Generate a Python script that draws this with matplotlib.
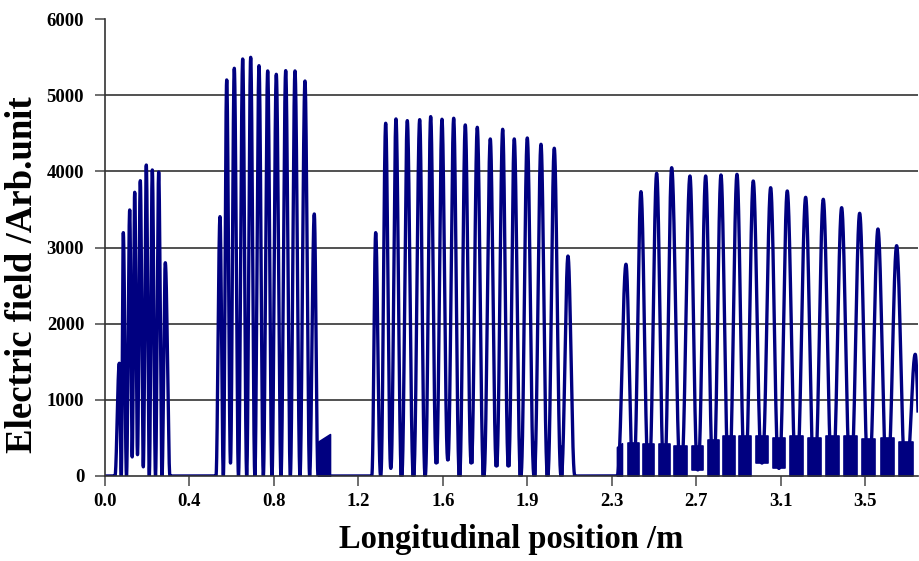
import numpy as np
import matplotlib
matplotlib.use("Agg")
import matplotlib.pyplot as plt

# ---- measured field profile: peak positions (m) and peak amplitudes (arb. unit) ----
# Cavity 1
c1_start, c1_end = 0.046, 0.299
c1_peak_x = [0.0658, 0.0842, 0.1137, 0.1367, 0.1625, 0.1901, 0.2178, 0.2472, 0.2776]
c1_peak_y = [1480, 3195, 3493, 3725, 3877, 4083, 4018, 3991, 2800]
c1_valley = [0, 0, 250, 280, 120, 0, 0, 0]

# Cavity 2
c2_start, c2_end = 0.511, 0.9806
c2_peak_x = [0.5294, 0.5603, 0.5952, 0.6339, 0.6707, 0.7090, 0.7490, 0.7886,
             0.8319, 0.8747, 0.9207, 0.9635]
c2_peak_y = [3405, 5200, 5353, 5475, 5497, 5387, 5318, 5274, 5322, 5318, 5186, 3440]
c2_valley = [0, 170, 0, 0, 0, 0, 0, 0, 0, 0, 0]
c2_tail_x = [0.9806, 1.0358]
c2_tail_top = [450, 550]

# Cavity 3
c3_start, c3_end = 1.2278, 2.1637
c3_peak_x = [1.2462, 1.2922, 1.3396, 1.3917, 1.4487, 1.4994, 1.5514, 1.6053, 1.6587,
             1.7139, 1.7738, 1.8309, 1.8842, 1.9441, 2.0072, 2.0684, 2.1315]
c3_peak_y = [3195, 4631, 4688, 4666, 4679, 4718, 4684, 4697, 4609, 4578, 4425, 4552,
             4425, 4438, 4355, 4303, 2888]
c3_valley = [0, 100, 0, 0, 0, 170, 210, 0, 170, 0, 130, 130, 0, 0, 0, 0]
c3_noise = [0, 0, 300, 400, 300, 400, 350, 300, 400, 350, 400, 400, 400, 450, 400, 400]

# Cavity 4
c4_start, c4_end = 2.3570, 3.7600
c4_peak_x = [2.3985, 2.4675, 2.5398, 2.6089, 2.6931, 2.7654, 2.8358, 2.9095, 2.9845,
             3.0646, 3.1410, 3.2257, 3.3068, 3.3914, 3.4743, 3.5586, 3.6446, 3.7302]
c4_peak_y = [2780, 3733, 3974, 4048, 3939, 3939, 3952, 3961, 3873, 3785, 3742, 3659,
             3633, 3523, 3449, 3243, 3024, 1598]
c4_valley = [0, 0, 0, 0, 80, 0, 0, 0, 170, 100, 0, 0, 0, 0, 0, 0, 0]
c4_noise = [430, 420, 420, 400, 390, 470, 520, 520, 520, 500, 520, 500, 520, 520, 480, 500, 450]
c4_lead_x = [2.3570, 2.3800]
c4_lead_top = [380, 430]

# ---- axis labelling ----
tick_step = 0.389
x_max = 3.743
y_ticks = [0, 1000, 2000, 3000, 4000, 5000, 6000]
x_label = "Longitudinal position /m"
y_label = "Electric field /Arb.unit"

LINE = "#000080"
FONT = ["Liberation Serif", "DejaVu Serif"]


def cavity_curve(x, start, px, py, valleys, end, power=3.0):
    """Field along the axis: smooth lobes joining peaks to the valleys between them."""
    px = np.asarray(px, float)
    py = np.asarray(py, float)
    mids = (px[:-1] + px[1:]) / 2
    kx = [start]
    ky = [0.0]
    for i in range(len(px)):
        kx.append(px[i]); ky.append(py[i])
        if i < len(mids):
            kx.append(mids[i]); ky.append(valleys[i])
    kx.append(end); ky.append(0.0)
    kx = np.array(kx); ky = np.array(ky)

    y = np.zeros_like(x)
    inside = (x >= start) & (x <= end)
    xi = x[inside]
    seg = np.clip(np.searchsorted(kx, xi, side="right") - 1, 0, len(kx) - 2)
    a, b = kx[seg], kx[seg + 1]
    ya, yb = ky[seg], ky[seg + 1]
    peak_first = (seg % 2 == 1)
    xp = np.where(peak_first, a, b)
    hp = np.where(peak_first, ya, yb)
    hv = np.where(peak_first, yb, ya)
    t = np.abs(xi - xp) / np.maximum(b - a, 1e-9)
    y[inside] = hv + (hp - hv) * np.cos(np.pi * t / 2) ** power
    return y


x = np.linspace(0.0, 3.76, 24000)
field = (cavity_curve(x, c1_start, c1_peak_x, c1_peak_y, c1_valley, c1_end, 2.0)
         + cavity_curve(x, c2_start, c2_peak_x, c2_peak_y, c2_valley, c2_end, 2.0)
         + cavity_curve(x, c3_start, c3_peak_x, c3_peak_y, c3_valley, c3_end, 2.4)
         + cavity_curve(x, c4_start, c4_peak_x, c4_peak_y, c4_valley, c4_end, 2.5))

fig = plt.figure(figsize=(9.2, 5.61), dpi=100)
ax = fig.add_axes([105 / 920, 85 / 561, 813 / 920, 457 / 561])

# horizontal grid
for yv in y_ticks[1:-1]:
    ax.axhline(yv, color="#222222", lw=1.1, zorder=1)


def noise_bands(px, valleys, tops, frac):
    px = np.asarray(px, float)
    for i in range(len(px) - 1):
        if tops[i] <= valleys[i]:
            continue
        gap = px[i + 1] - px[i]
        mid = (px[i] + px[i + 1]) / 2
        xs = [mid - frac * gap / 2, mid + frac * gap / 2]
        ax.fill_between(xs, [valleys[i]] * 2, [tops[i]] * 2, color=LINE,
                        lw=1.2, edgecolor=LINE, zorder=3)


noise_bands(c3_peak_x, c3_valley, c3_noise, 0.22)
noise_bands(c4_peak_x, c4_valley, c4_noise, 0.72)
ax.fill_between(c2_tail_x, [0, 0], c2_tail_top, color=LINE, lw=1.2, edgecolor=LINE, zorder=3)
ax.fill_between(c4_lead_x, [0, 0], c4_lead_top, color=LINE, lw=1.2, edgecolor=LINE, zorder=3)

ax.plot(x, field, color=LINE, lw=2.4, solid_joinstyle="round", zorder=4)

ax.set_xlim(0, x_max)
ax.set_ylim(0, 6000)
xt = np.arange(0, 10) * tick_step
ax.set_xticks(xt)
ax.set_xticklabels([f"{v:.1f}" for v in xt])
ax.set_yticks(y_ticks)
ax.set_yticklabels([str(v) for v in y_ticks])

for side in ("top", "right"):
    ax.spines[side].set_visible(False)
for side in ("left", "bottom"):
    ax.spines[side].set_color("#333333")
    ax.spines[side].set_linewidth(1.2)
    ax.spines[side].set_zorder(5)

ax.tick_params(axis="both", direction="out", length=7, width=1.2, color="#555555")
ax.tick_params(axis="x", pad=5)
ax.tick_params(axis="y", pad=8)
for lab in ax.get_xticklabels() + ax.get_yticklabels():
    lab.set_fontfamily(FONT)
    lab.set_fontweight("bold")
    lab.set_fontsize(13.5)

ax.set_xlabel(x_label, fontfamily=FONT, fontweight="bold", fontsize=23.5)
ax.xaxis.set_label_coords(0.5, -0.105)
ax.set_ylabel(y_label, fontfamily=FONT, fontweight="bold", fontsize=26.5)
ax.yaxis.set_label_coords(-0.08, 0.44)

fig.savefig("out.png", dpi=100)
